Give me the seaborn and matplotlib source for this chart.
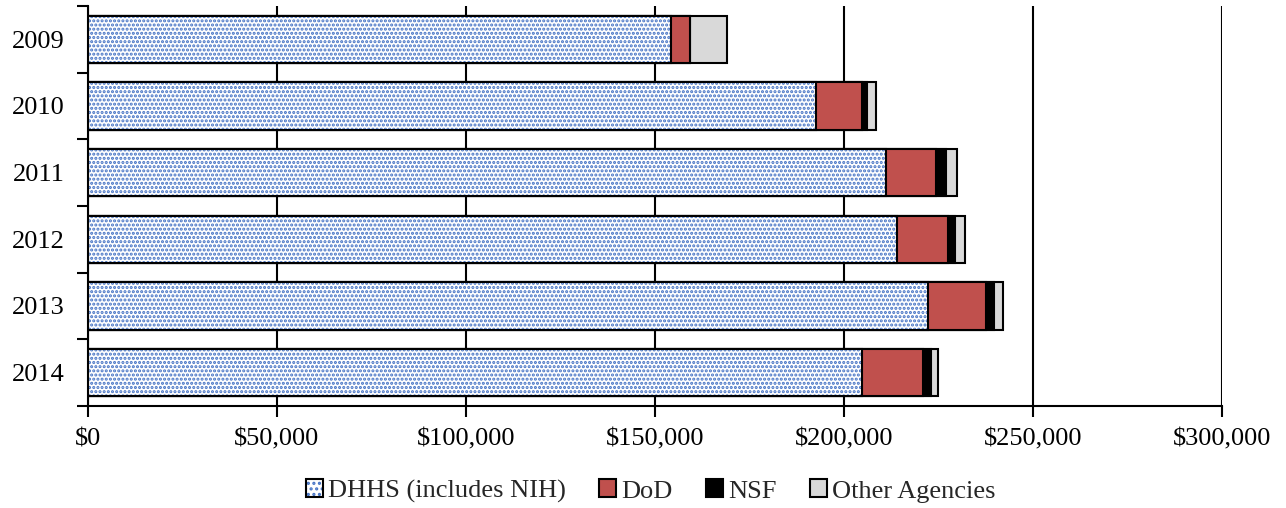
import pandas as pd
import matplotlib
matplotlib.use("Agg")
import matplotlib.pyplot as plt
import seaborn as sns
from matplotlib.patches import Patch
from matplotlib.legend_handler import HandlerTuple
from matplotlib.ticker import StrMethodFormatter, FixedLocator

# -----------------------------
# Data (funding, $ thousands)
# -----------------------------
years = ['2009', '2010', '2011', '2012', '2013', '2014']
dhhs = [154200, 192600, 211100, 213900, 222300, 204800]
dod = [5100, 12200, 13200, 13500, 15300, 16000]
nsf = [0, 1200, 2700, 2000, 2200, 2100]
other = [9700, 2400, 2800, 2500, 2400, 2000]

BLUE = '#4472C4'
RED = '#C0504D'
GREY = '#D9D9D9'

sns.set_style('ticks')
plt.rcParams['font.family'] = ['Liberation Serif', 'DejaVu Serif']
plt.rcParams['hatch.linewidth'] = 1.5

df = pd.DataFrame({'year': years, 'dhhs': dhhs, 'dod': dod, 'nsf': nsf, 'other': other})
df['c_dod'] = df['dhhs'] + df['dod']
df['c_nsf'] = df['c_dod'] + df['nsf']
df['c_other'] = df['c_nsf'] + df['other']

fig = plt.figure(figsize=(12.86, 5.08), dpi=100)
ax = fig.add_axes([0.0684, 0.2008, 0.8818, 0.7874])

w = 0.71
common = dict(y='year', orient='h', errorbar=None, width=w, ax=ax, order=years)

# stacked by drawing cumulative totals from the back
sns.barplot(data=df, x='c_other', color=GREY, edgecolor='black', linewidth=1.5,
            saturation=1, **common)
sns.barplot(data=df, x='c_nsf', color='black', edgecolor='black', linewidth=1.5,
            saturation=1, **common)
sns.barplot(data=df, x='c_dod', color=RED, edgecolor='black', linewidth=1.5,
            saturation=1, **common)
# dotted DHHS: hatch layer, then black outline
sns.barplot(data=df, x='dhhs', color='white', edgecolor=BLUE, linewidth=0,
            hatch='....', saturation=1, **common)
sns.barplot(data=df, x='dhhs', fill=False, edgecolor='black', linewidth=1.5,
            **common)

ax.set_xlim(0, 300000)
ax.set_ylim(5.5, -0.5)
ax.xaxis.set_major_locator(FixedLocator(range(0, 300001, 50000)))
ax.xaxis.set_major_formatter(StrMethodFormatter('${x:,.0f}'))
ax.grid(axis='x', color='black', linewidth=1.5)
ax.grid(axis='y', visible=False)
ax.set_axisbelow(True)

ax.yaxis.set_minor_locator(FixedLocator([i - 0.5 for i in range(len(years) + 1)]))
ax.tick_params(axis='y', which='major', length=0, pad=17, labelsize=19)
ax.tick_params(axis='y', which='minor', length=8, width=1.5, color='black')
ax.tick_params(axis='x', which='major', length=8, width=1.5, pad=8, labelsize=19,
               color='black')
for lab in ax.get_xticklabels() + ax.get_yticklabels():
    lab.set_color('black')

ax.set_xlabel('')
ax.set_ylabel('')
sns.despine(ax=ax, top=True, right=True)
for s in ['left', 'bottom']:
    ax.spines[s].set_color('black')
    ax.spines[s].set_linewidth(1.5)

# legend
h_dhhs = (Patch(facecolor='white', edgecolor=BLUE, hatch='...', linewidth=0),
          Patch(fill=False, edgecolor='black', linewidth=1.5))
h_dod = Patch(facecolor=RED, edgecolor='black', linewidth=1.5)
h_nsf = Patch(facecolor='black', edgecolor='black', linewidth=1.5)
h_oth = Patch(facecolor=GREY, edgecolor='black', linewidth=1.5)
fig.legend([h_dhhs, h_dod, h_nsf, h_oth],
           ['DHHS (includes NIH)', 'DoD', 'NSF', 'Other Agencies'],
           handler_map={tuple: HandlerTuple(ndivide=1, pad=0)},
           loc='center', bbox_to_anchor=(0.506, 0.033), ncol=4, frameon=False,
           fontsize=19, handlelength=0.65, handleheight=0.65, handletextpad=0.2,
           columnspacing=1.25, borderaxespad=0)

fig.savefig('out.png', dpi=100)
plt.close(fig)
